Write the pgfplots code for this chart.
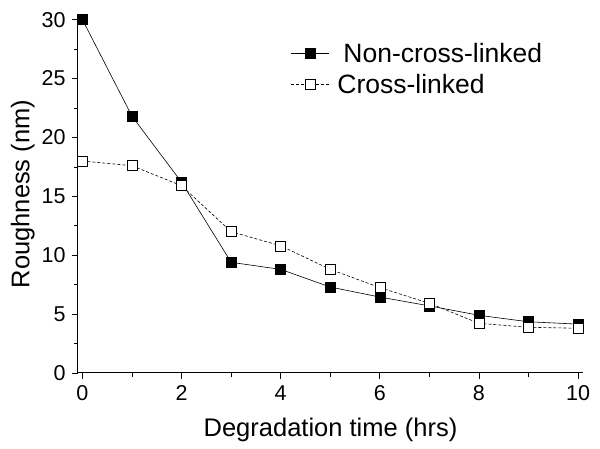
\documentclass[border=0pt]{standalone}
\usepackage{pgfplots}
\pgfplotsset{compat=1.18}
\usepackage{fontspec}
\setmainfont{Liberation Sans}
\begin{document}
\begin{tikzpicture}
\begin{axis}[
  scale only axis,
  width=505pt, height=358pt,
  xmin=-0.09, xmax=10.1,
  ymin=0, ymax=30.4,
  axis x line*=bottom, axis y line*=left,
  axis line style={line width=1pt},
  xtick={0,2,4,6,8,10},
  minor xtick={1,3,5,7,9},
  ytick={0,5,10,15,20,25,30},
  minor ytick={2.5,7.5,12.5,17.5,22.5,27.5},
  tick align=outside,
  major tick length=6pt, minor tick length=4pt,
  tick style={line width=0.8pt, black},
  /pgf/number format/assume math mode=true,
  tick label style={font=\fontsize{21.5}{25}\selectfont},
  xticklabel style={yshift=-3pt},
  yticklabel style={xshift=-3pt},
  xlabel={Degradation time (hrs)},
  ylabel={Roughness (nm)},
  label style={font=\fontsize{25.5}{30}\selectfont},
  xlabel style={yshift=-10pt},
  ylabel style={yshift=0pt},
  legend style={draw=none, fill=none, inner sep=0pt, at={(axis cs:4.2,28.2)}, anchor=north west,
    font=\fontsize{26.5}{31}\selectfont, row sep=6pt,
    /tikz/every odd column/.append style={column sep=6pt}},
  legend cell align=left,
  legend image code/.code={\draw[mark repeat=2,mark phase=2,#1] plot coordinates {(0pt,0pt) (19pt,0pt) (38pt,0pt)};},
]
\addplot[black, line width=0.6pt, mark=square*, mark size=5pt, mark options={solid, fill=black}]
coordinates {(0,30.0) (1,21.8) (2,16.2) (3,9.4) (4,8.8) (5,7.3) (6,6.45) (7,5.7) (8,4.9) (9,4.35) (10,4.15)};
\addlegendentry{\hspace{6pt}Non-cross-linked}
\addplot[black, line width=0.6pt, densely dashed, mark=square*, mark size=5pt, mark options={solid, fill=white}]
coordinates {(0,18.0) (1,17.6) (2,15.9) (3,12.0) (4,10.8) (5,8.8) (6,7.25) (7,5.92) (8,4.22) (9,3.88) (10,3.8)};
\addlegendentry{Cross-linked}
\end{axis}
\pgfresetboundingbox
\useasboundingbox (-78pt,-76pt) rectangle (522pt,373pt);
\end{tikzpicture}
\end{document}
